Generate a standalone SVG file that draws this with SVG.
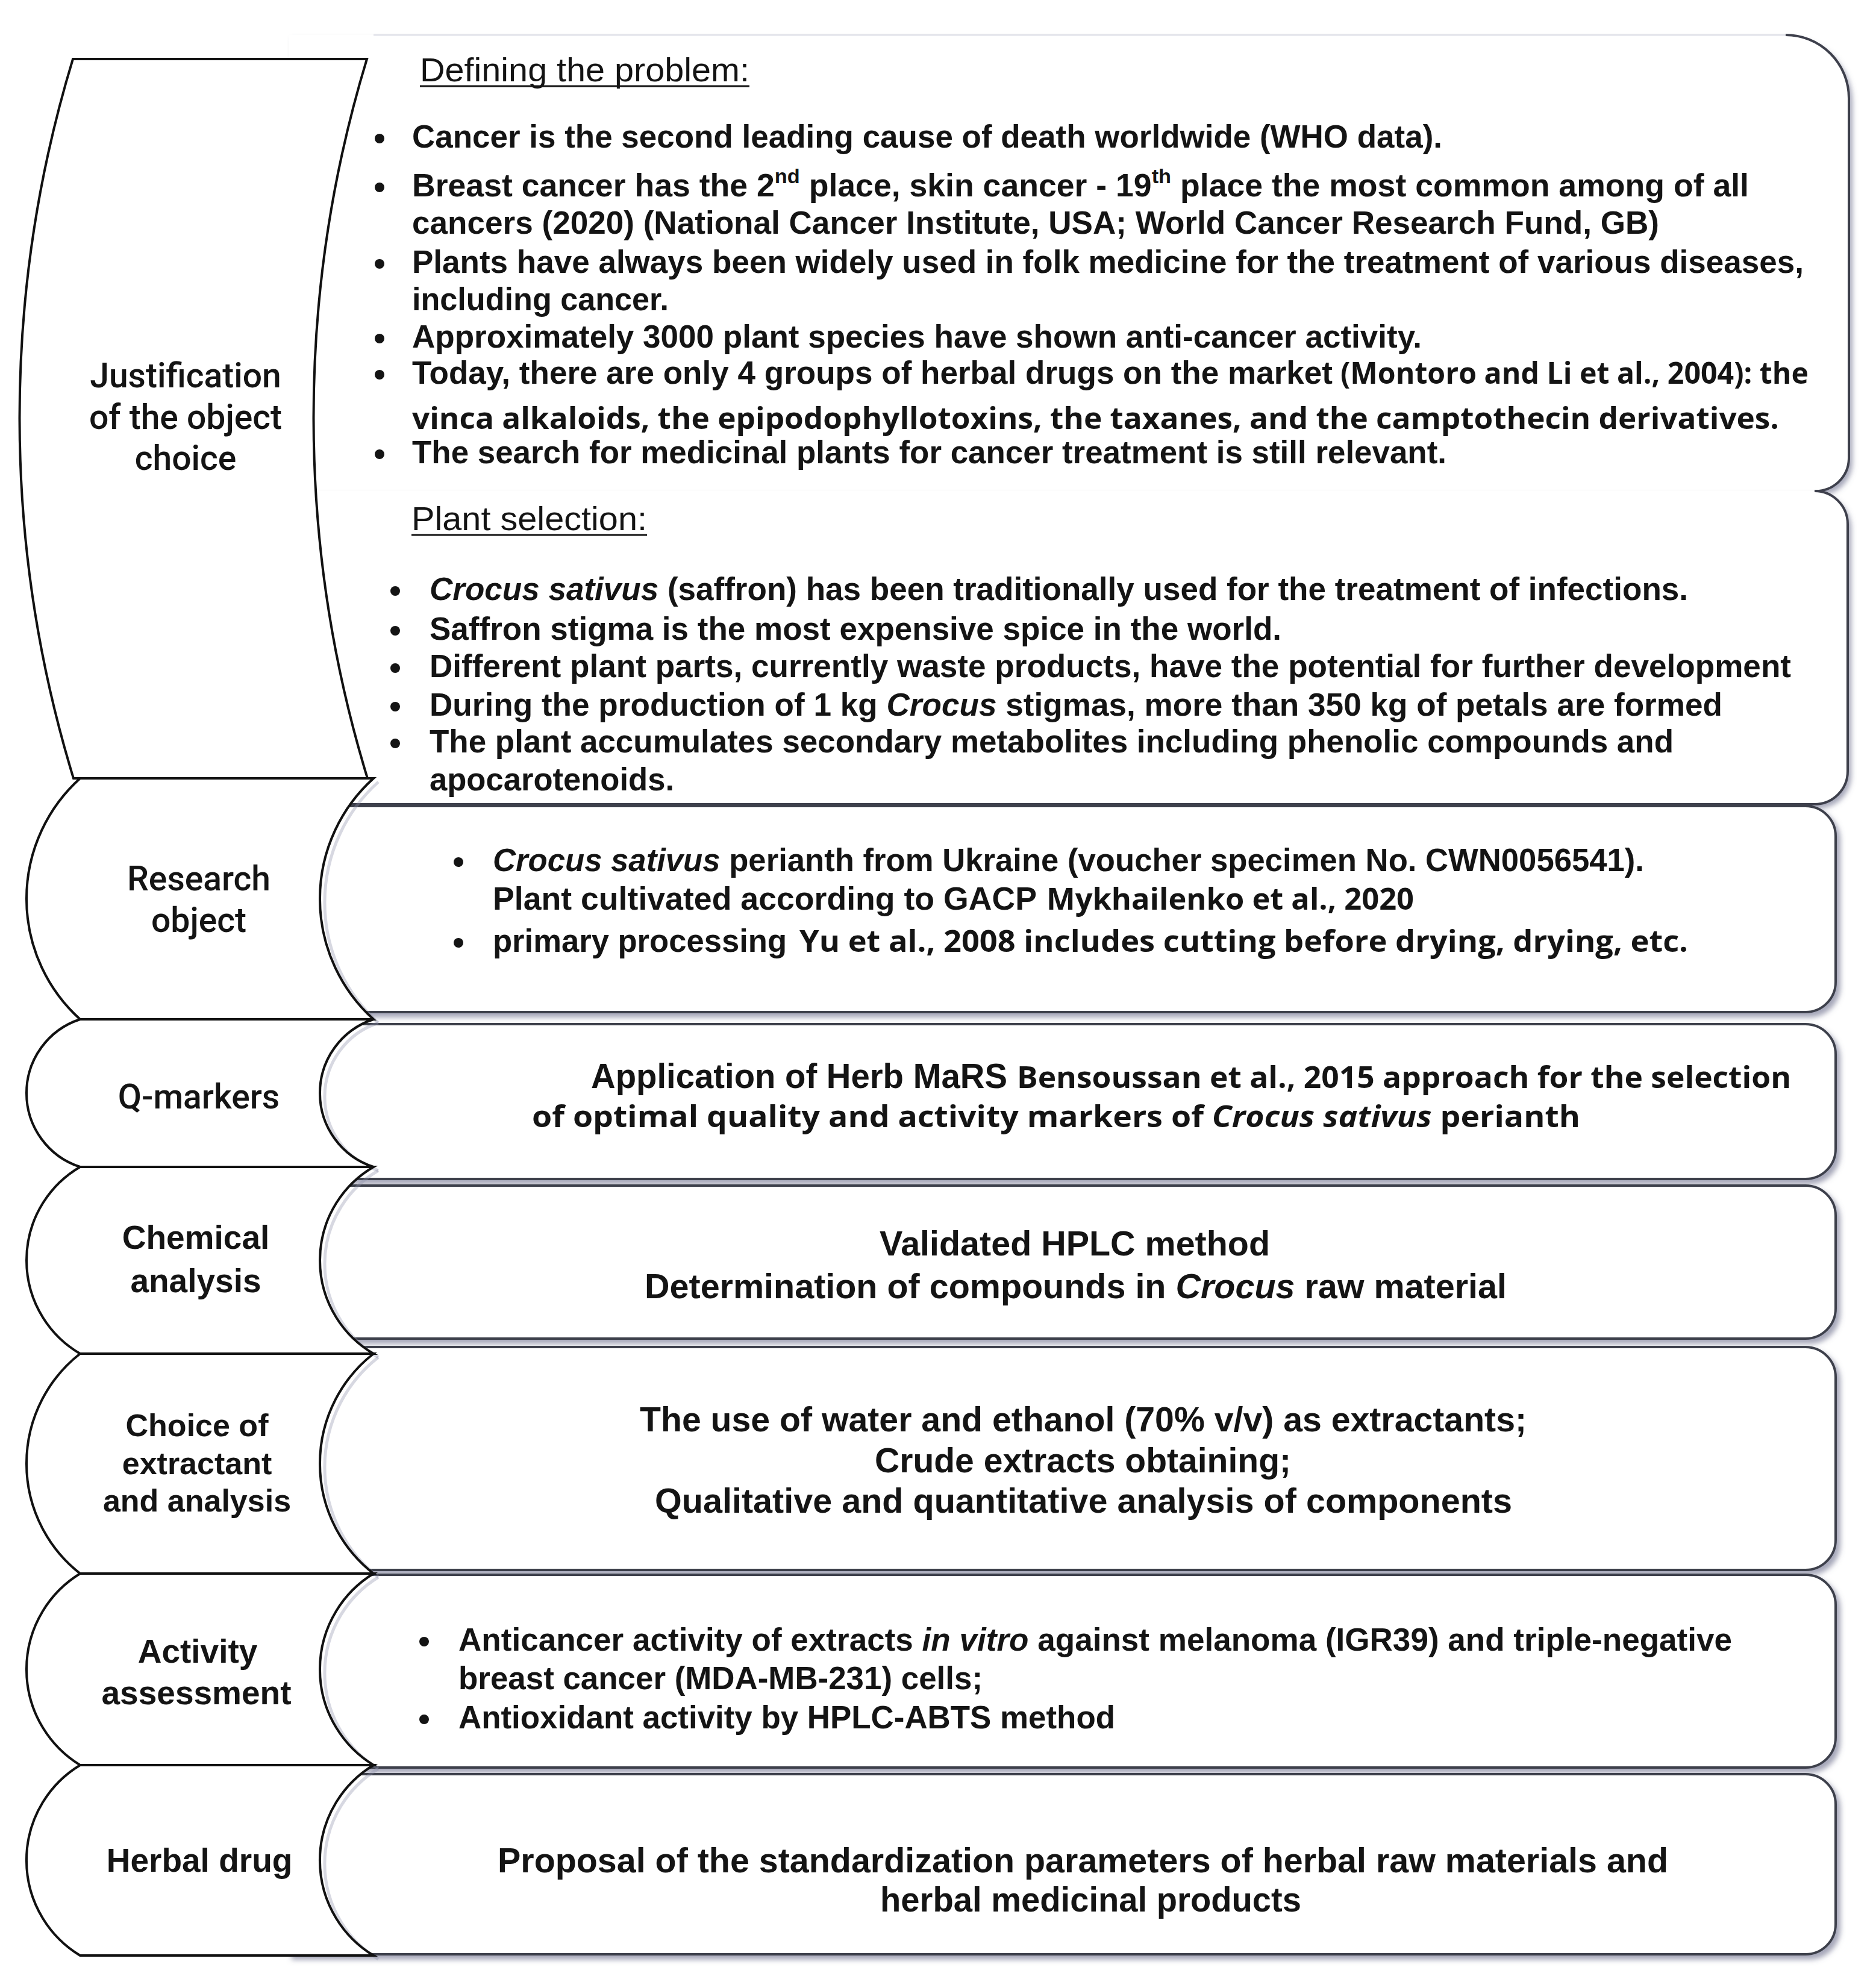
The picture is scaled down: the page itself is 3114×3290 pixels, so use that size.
<svg xmlns="http://www.w3.org/2000/svg" width="3114" height="3290" viewBox="0 0 3114 3290">
<defs>
<filter id="sh" x="-3%" y="-10%" width="108%" height="130%">
<feDropShadow dx="6" dy="7" stdDeviation="4" flood-color="#5c6080" flood-opacity="0.55"/>
</filter>
<style>
.bx{fill:#fff;stroke:#3e404c;stroke-width:4}
.bxf{fill:#fff;stroke:none}
.edge{fill:none;stroke:#3e404c;stroke-width:4}
.shape{fill:#fff;stroke:#111;stroke-width:4;stroke-linejoin:miter}
.ghost{fill:none;stroke:#8d90a8;stroke-width:5;opacity:0.35}
.t{font-family:"Liberation Sans",Arial,sans-serif;font-weight:700;fill:#141414}
.f53{font-size:53px}
.f57{font-size:57px}
.hd{font-family:"Liberation Sans",Arial,sans-serif;font-weight:400;font-size:56px;fill:#141414}
.sg{font-family:"Open Sans","Noto Sans",sans-serif;font-weight:700;font-size:50px;fill:#141414}
.sup{font-size:34px}
.lab{font-family:Roboto,"Liberation Sans",sans-serif;font-weight:500;font-size:57px;fill:#141414;text-anchor:middle}
.labb{font-family:"Liberation Sans",Arial,sans-serif;font-weight:700;font-size:55px;fill:#141414;text-anchor:middle}
.ul{stroke:#141414;stroke-width:3}
.b{fill:#141414}
</style>
</defs>
<rect width="3114" height="3290" fill="#fff"/>

<!-- right content boxes -->
<g id="box-defining">
<path class="bxf" filter="url(#sh)" d="M480,58 H2964 A105,105 0 0 1 3069,163 V760 A55,55 0 0 1 3014,815 H480 Z"/>
<path d="M620,58 H2964" fill="none" stroke="#e2e3ea" stroke-width="3"/>
<path class="edge" d="M2964,58 A105,105 0 0 1 3069,163 V760 A55,55 0 0 1 3014,815"/>
<text class="hd" x="697" y="135" textLength="547" lengthAdjust="spacingAndGlyphs">Defining the problem:</text>
<line class="ul" x1="697" y1="143" x2="1244" y2="143"/>
<circle class="b" cx="630" cy="230" r="8"/>
<text class="t f53" x="684" y="245" textLength="1710" lengthAdjust="spacingAndGlyphs">Cancer is the second leading cause of death worldwide (WHO data).</text>
<circle class="b" cx="630" cy="311" r="8"/>
<text class="t f53" x="684" y="326" textLength="2219" lengthAdjust="spacingAndGlyphs">Breast cancer has the 2<tspan class="sup" dy="-22">nd</tspan><tspan dy="22"> place, skin cancer - 19</tspan><tspan class="sup" dy="-22">th</tspan><tspan dy="22"> place the most common among of all</tspan></text>
<text class="t f53" x="684" y="388" textLength="2070" lengthAdjust="spacingAndGlyphs">cancers (2020) (National Cancer Institute, USA; World Cancer Research Fund, GB)</text>
<circle class="b" cx="630" cy="438" r="8"/>
<text class="t f53" x="684" y="453" textLength="2310" lengthAdjust="spacingAndGlyphs">Plants have always been widely used in folk medicine for the treatment of various diseases,</text>
<text class="t f53" x="684" y="515" textLength="426" lengthAdjust="spacingAndGlyphs">including cancer.</text>
<circle class="b" cx="630" cy="562" r="8"/>
<text class="t f53" x="684" y="577" textLength="1676" lengthAdjust="spacingAndGlyphs">Approximately 3000 plant species have shown anti-cancer activity.</text>
<circle class="b" cx="630" cy="622" r="8"/>
<text class="t f53" x="684" y="637" textLength="1528" lengthAdjust="spacingAndGlyphs">Today, there are only 4 groups of herbal drugs on the market</text>
<text class="sg" x="2225" y="637" textLength="777" lengthAdjust="spacingAndGlyphs">(Montoro and Li et al., 2004): the</text>
<text class="sg" x="684" y="712" textLength="2269" lengthAdjust="spacingAndGlyphs">vinca alkaloids, the epipodophyllotoxins, the taxanes, and the camptothecin derivatives.</text>
<circle class="b" cx="630" cy="754" r="8"/>
<text class="t f53" x="684" y="769" textLength="1717" lengthAdjust="spacingAndGlyphs">The search for medicinal plants for cancer treatment is still relevant.</text>
</g>

<g id="box-plant-selection">
<path class="bxf" filter="url(#sh)" d="M480,815 H3012 A55,55 0 0 1 3067,870 V1280 A55,55 0 0 1 3012,1335 H480 Z"/>
<path class="edge" d="M3012,815 A55,55 0 0 1 3067,870 V1280 A55,55 0 0 1 3012,1335 H480"/>
<text class="hd" x="683" y="880" textLength="391" lengthAdjust="spacingAndGlyphs">Plant selection:</text>
<line class="ul" x1="683" y1="888" x2="1074" y2="888"/>
<circle class="b" cx="656" cy="981" r="8"/>
<text class="t f53" x="713" y="996" textLength="2089" lengthAdjust="spacingAndGlyphs"><tspan font-style="italic">Crocus sativus</tspan> (saffron) has been traditionally used for the treatment of infections.</text>
<circle class="b" cx="656" cy="1047" r="8"/>
<text class="t f53" x="713" y="1062" textLength="1414" lengthAdjust="spacingAndGlyphs">Saffron stigma is the most expensive spice in the world.</text>
<circle class="b" cx="656" cy="1109" r="8"/>
<text class="t f53" x="713" y="1124" textLength="2260" lengthAdjust="spacingAndGlyphs">Different plant parts, currently waste products, have the potential for further development</text>
<circle class="b" cx="656" cy="1173" r="8"/>
<text class="t f53" x="713" y="1188" textLength="2146" lengthAdjust="spacingAndGlyphs">During the production of 1 kg <tspan font-style="italic">Crocus</tspan> stigmas, more than 350 kg of petals are formed</text>
<circle class="b" cx="656" cy="1234" r="8"/>
<text class="t f53" x="713" y="1249" textLength="2065" lengthAdjust="spacingAndGlyphs">The plant accumulates secondary metabolites including phenolic compounds and</text>
<text class="t f53" x="713" y="1312" textLength="406" lengthAdjust="spacingAndGlyphs">apocarotenoids.</text>
</g>

<g id="box-research">
<path class="bx" filter="url(#sh)" d="M480,1338 H2997 A50,50 0 0 1 3047,1388 V1630 A50,50 0 0 1 2997,1680 H480 Z"/>
<circle class="b" cx="761" cy="1431" r="8"/>
<text class="t f53" x="818" y="1446" textLength="1911" lengthAdjust="spacingAndGlyphs"><tspan font-style="italic">Crocus sativus</tspan> perianth from Ukraine (voucher specimen No. CWN0056541).</text>
<text class="t f53" x="818" y="1510" textLength="903" lengthAdjust="spacingAndGlyphs">Plant cultivated according to GACP</text>
<text class="sg" x="1737" y="1510" textLength="610" lengthAdjust="spacingAndGlyphs">Mykhailenko et al., 2020</text>
<circle class="b" cx="761" cy="1565" r="8"/>
<text class="t f53" x="818" y="1580" textLength="488" lengthAdjust="spacingAndGlyphs">primary processing</text>
<text class="sg" x="1327" y="1580" textLength="1475" lengthAdjust="spacingAndGlyphs">Yu et al., 2008 includes cutting before drying, drying, etc.</text>
</g>

<g id="box-qmarkers">
<path class="bx" filter="url(#sh)" d="M480,1700 H2997 A50,50 0 0 1 3047,1750 V1907 A50,50 0 0 1 2997,1957 H480 Z"/>
<text class="t f57" x="981" y="1806" textLength="691" lengthAdjust="spacingAndGlyphs">Application of Herb MaRS</text>
<text class="sg" x="1688" y="1806" textLength="1285" lengthAdjust="spacingAndGlyphs">Bensoussan et al., 2015 approach for the selection</text>
<text class="sg" x="883" y="1871" textLength="1740" lengthAdjust="spacingAndGlyphs">of optimal quality and activity markers of <tspan font-style="italic">Crocus sativus</tspan> perianth</text>
</g>

<g id="box-chemical">
<path class="bx" filter="url(#sh)" d="M480,1968 H2997 A50,50 0 0 1 3047,2018 V2172 A50,50 0 0 1 2997,2222 H480 Z"/>
<text class="t f57" x="1460" y="2084" textLength="648" lengthAdjust="spacingAndGlyphs">Validated HPLC method</text>
<text class="t f57" x="1070" y="2155" textLength="1431" lengthAdjust="spacingAndGlyphs">Determination of compounds in <tspan font-style="italic">Crocus</tspan> raw material</text>
</g>

<g id="box-extractant">
<path class="bx" filter="url(#sh)" d="M480,2236 H2997 A50,50 0 0 1 3047,2286 V2556 A50,50 0 0 1 2997,2606 H480 Z"/>
<text class="t f57" x="1062" y="2376" textLength="1472" lengthAdjust="spacingAndGlyphs">The use of water and ethanol (70% v/v) as extractants;</text>
<text class="t f57" x="1452" y="2444" textLength="691" lengthAdjust="spacingAndGlyphs">Crude extracts obtaining;</text>
<text class="t f57" x="1087" y="2511" textLength="1423" lengthAdjust="spacingAndGlyphs">Qualitative and quantitative analysis of components</text>
</g>

<g id="box-activity">
<path class="bx" filter="url(#sh)" d="M480,2614 H2997 A50,50 0 0 1 3047,2664 V2884 A50,50 0 0 1 2997,2934 H480 Z"/>
<circle class="b" cx="704" cy="2725" r="8"/>
<text class="t f53" x="761" y="2740" textLength="2114" lengthAdjust="spacingAndGlyphs">Anticancer activity of extracts <tspan font-style="italic">in vitro</tspan> against melanoma (IGR39) and triple-negative</text>
<text class="t f53" x="761" y="2804" textLength="870" lengthAdjust="spacingAndGlyphs">breast cancer (MDA-MB-231) cells;</text>
<circle class="b" cx="704" cy="2854" r="8"/>
<text class="t f53" x="761" y="2869" textLength="1090" lengthAdjust="spacingAndGlyphs">Antioxidant activity by HPLC-ABTS method</text>
</g>

<g id="box-herbal">
<path class="bx" filter="url(#sh)" d="M480,2945 H2997 A50,50 0 0 1 3047,2995 V3194 A50,50 0 0 1 2997,3244 H480 Z"/>
<text class="t f57" x="826" y="3108" textLength="1943" lengthAdjust="spacingAndGlyphs">Proposal of the standardization parameters of herbal raw materials and</text>
<text class="t f57" x="1461" y="3173" textLength="699" lengthAdjust="spacingAndGlyphs">herbal medicinal products</text>
</g>

<!-- soft shadows along the concave edges -->
<g id="edge-shadows">
<path class="ghost" d="M628,1298 A269.2,269.2 0 0 0 628,1698"/>
<path class="ghost" d="M628,1698 A128.8,128.8 0 0 0 628,1943"/>
<path class="ghost" d="M628,1943 A179.5,179.5 0 0 0 628,2253"/>
<path class="ghost" d="M628,2253 A231.6,231.6 0 0 0 628,2618"/>
<path class="ghost" d="M628,2618 A186.5,186.5 0 0 0 628,2936"/>
<path class="ghost" d="M628,2936 A184.7,184.7 0 0 0 628,3252"/>
</g>

<!-- left stage shapes -->
<g id="stage-justification">
<path class="shape" d="M121,98 H609 A2047,2047 0 0 0 610,1292 H122 A2047,2047 0 0 1 121,98 Z"/>
<text class="lab" x="308" y="643">Justification</text>
<text class="lab" x="308" y="712">of the object</text>
<text class="lab" x="308" y="780">choice</text>
</g>
<g id="stage-research">
<path class="shape" d="M133,1292 H620 A269.2,269.2 0 0 0 620,1692 H133 A269.2,269.2 0 0 1 133,1292 Z"/>
<text class="lab" x="330" y="1478">Research</text>
<text class="lab" x="330" y="1547">object</text>
</g>
<g id="stage-qmarkers">
<path class="shape" d="M133,1692 H620 A128.8,128.8 0 0 0 620,1937 H133 A128.8,128.8 0 0 1 133,1692 Z"/>
<text class="lab" x="330" y="1840">Q-markers</text>
</g>
<g id="stage-chemical">
<path class="shape" d="M133,1937 H620 A179.5,179.5 0 0 0 620,2247 H133 A179.5,179.5 0 0 1 133,1937 Z"/>
<text class="labb" x="325" y="2073">Chemical</text>
<text class="labb" x="325" y="2145">analysis</text>
</g>
<g id="stage-extractant">
<path class="shape" d="M133,2247 H620 A231.6,231.6 0 0 0 620,2612 H133 A231.6,231.6 0 0 1 133,2247 Z"/>
<text class="labb" x="327" y="2384" style="font-size:52px">Choice of</text>
<text class="labb" x="327" y="2447" style="font-size:52px">extractant</text>
<text class="labb" x="327" y="2509" style="font-size:52px">and analysis</text>
</g>
<g id="stage-activity">
<path class="shape" d="M133,2612 H620 A186.5,186.5 0 0 0 620,2930 H133 A186.5,186.5 0 0 1 133,2612 Z"/>
<text class="labb" x="328" y="2760">Activity</text>
<text class="labb" x="326" y="2829">assessment</text>
</g>
<g id="stage-herbal">
<path class="shape" d="M133,2930 H620 A184.7,184.7 0 0 0 620,3246 H133 A184.7,184.7 0 0 1 133,2930 Z"/>
<text class="labb" x="331" y="3107">Herbal drug</text>
</g>
</svg>
